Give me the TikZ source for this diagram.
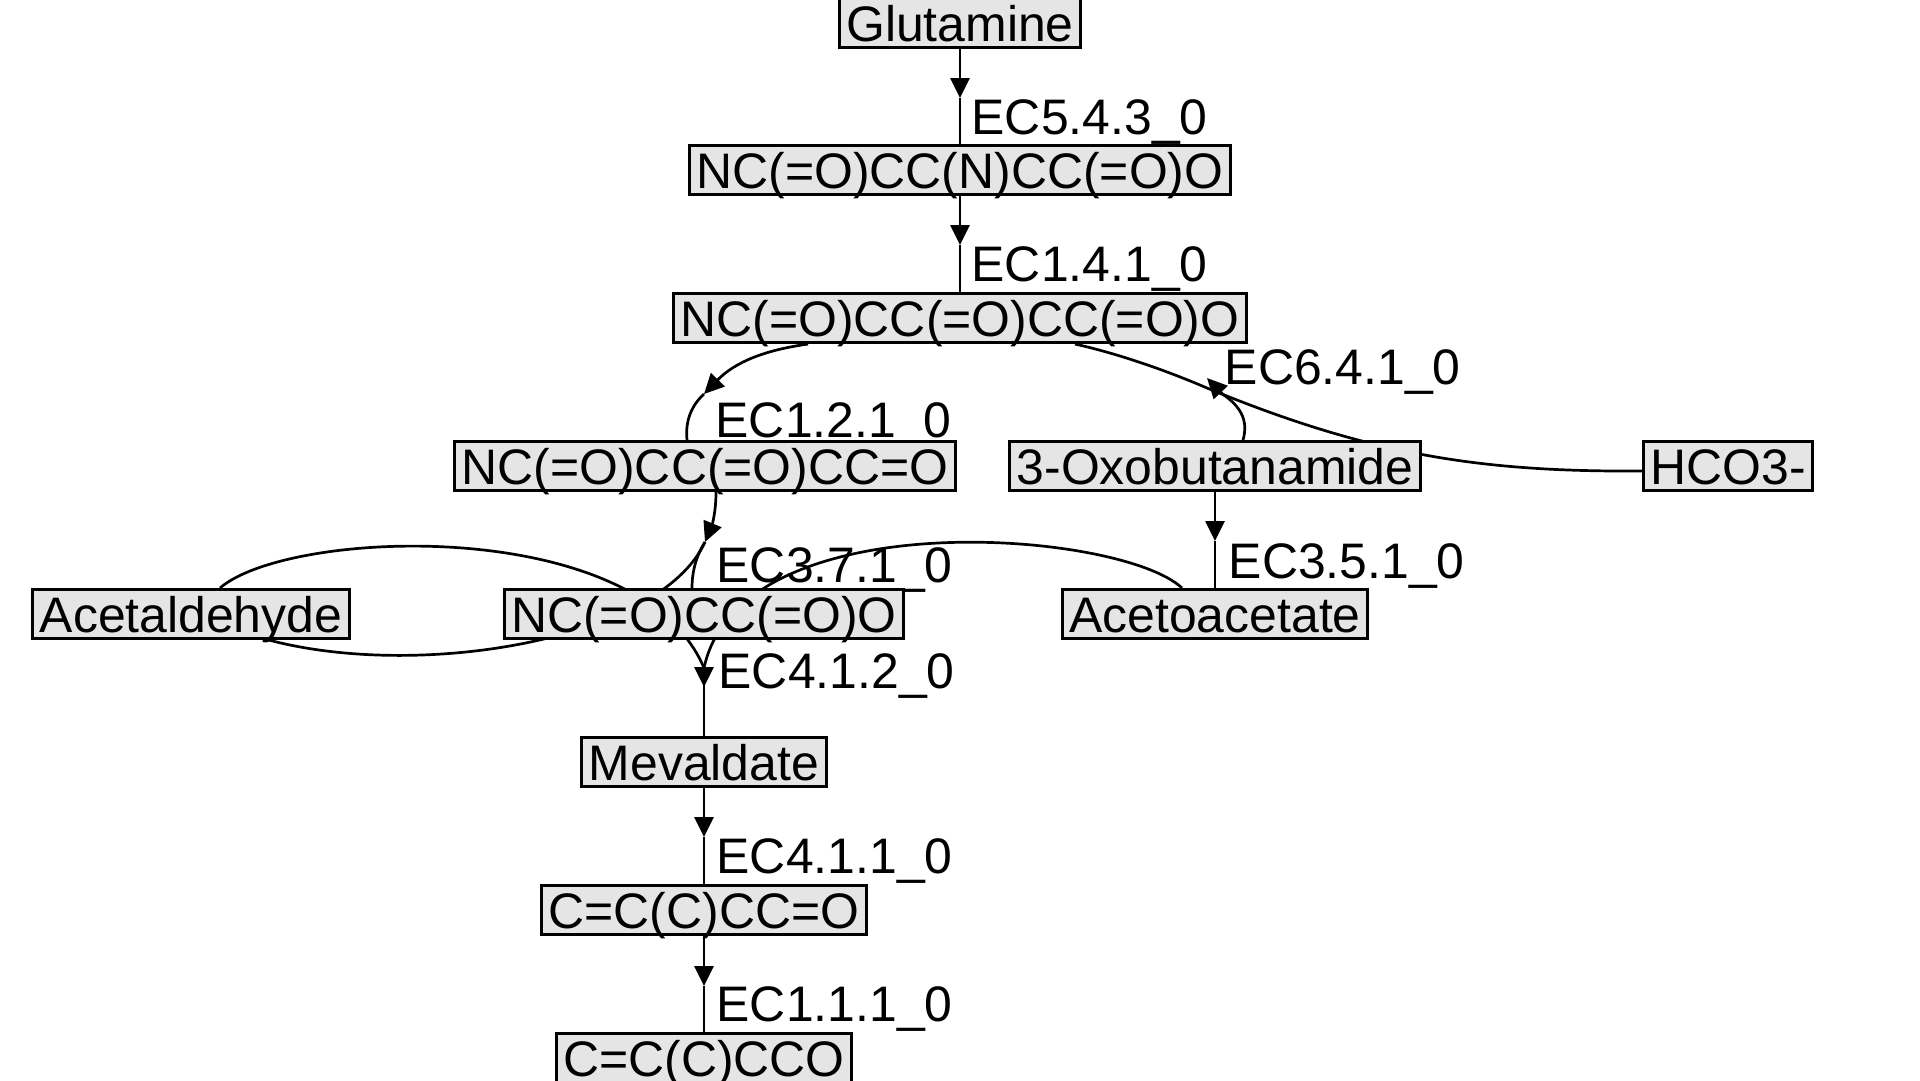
\documentclass[tikz,border=0pt]{standalone}
\usepackage{fontspec}
\setmainfont{Liberation Sans}
\usetikzlibrary{arrows.meta,calc}
\pgfdeclarelayer{bg}
\pgfsetlayers{bg,main}

\begin{document}
\begin{tikzpicture}[
	x=0.1mm, y=-0.1mm,
	font=\fontsize{14.2pt}{17pt}\selectfont,
	cpd/.style={rectangle, draw, line width=0.28mm, fill=black!10, inner xsep=0.7mm, inner ysep=0pt, text height=4.36mm, text depth=0.57mm},
	ec/.style={anchor=base west, inner sep=0pt},
	rxn/.style={line width=0.27mm},
	arr/.style={rxn, -{Triangle[length=2mm, width=1.9mm]}}
]
\begin{pgfonlayer}{bg}
\fill[white] (0,0) rectangle (1920,1080);
\end{pgfonlayer}
\useasboundingbox (0,0) rectangle (1920,1080);

% compounds
\node[cpd] (glu)     at (960,23)   {Glutamine};
\node[cpd] (amid)    at (960,170)  {NC(=O)CC(N)CC(=O)O};
\node[cpd] (oxoacid) at (960,318)  {NC(=O)CC(=O)CC(=O)O};
\node[cpd] (oxoald)  at (705,466)  {NC(=O)CC(=O)CC=O};
\node[cpd] (oxobut)  at (1215,466) {3-Oxobutanamide};
\node[cpd] (hco)     at (1728,466) {HCO3-};
\node[cpd] (acald)   at (191,614)  {Acetaldehyde};
\node[cpd] (malam)   at (704,614)  {NC(=O)CC(=O)O};
\node[cpd] (acac)    at (1215,614) {Acetoacetate};
\node[cpd] (mev)     at (704,762)  {Mevaldate};
\node[cpd] (enal)    at (704,910)  {C=C(C)CC=O};
\node[cpd] (enol)    at (704,1058) {C=C(C)CCO};

% reaction points
\coordinate (j543) at (960,98);
\coordinate (j141) at (960,245);
\coordinate (j121) at (704,394);
\coordinate (j641) at (1207,388);
\coordinate (j351) at (1215,541);
\coordinate (j371) at (705,542);
\coordinate (j412) at (704,668);
\coordinate (j411) at (704,837);
\coordinate (j111) at (704,986);

\begin{pgfonlayer}{bg}
\draw[arr] (glu) -- (j543);
\draw[rxn] (j543) -- (amid);
\draw[arr] (amid) -- (j141);
\draw[rxn] (j141) -- (oxoacid);

\draw[arr] ($(oxoacid.south)+(-152,0)$) .. controls (765,350) and (735,362) .. (j121);
\draw[rxn] (j121) .. controls (692,405) and (685,420) .. ($(oxoald.north)+(-18,0)$);

\draw[rxn] ($(oxoacid.south)+(115,0)$) .. controls (1120,354) and (1170,372) .. (j641);
\draw[arr] ($(oxobut.north)+(28,0)$) .. controls (1252,410) and (1225,397) .. ($(j641)+(0,-10)$);
\draw[rxn] (j641) .. controls (1370,455) and (1480,472) .. ($(hco.west)+(0,5)$);

\draw[arr] (oxobut) -- (j351);
\draw[rxn] (j351) -- (acac);

\draw[arr] ($(oxoald.south)+(11,0)$) .. controls (716,512) and (712,525) .. (j371);
\draw[rxn] (j371) .. controls (696,556) and (692,572) .. ($(malam.north)+(-12,0)$);
\draw[rxn] (j371) .. controls (660,640) and (420,680) .. ($(acald.south)+(78,0)$);

\draw[rxn] ($(acald.north)+(29,0)$) .. controls (290,528) and (640,515) .. (j412);
\draw[rxn] ($(acac.north)+(-33,0)$) .. controls (1120,530) and (740,500) .. (j412);
\draw[arr] (j412) -- ++(0,19);
\draw[rxn] (j412) -- (mev);

\draw[arr] (mev) -- (j411);
\draw[rxn] (j411) -- (enal);
\draw[arr] (enal) -- (j111);
\draw[rxn] (j111) -- (enol);

% enzyme labels
\node[ec] (l543) at (971,134)  {EC5.4.3\_0};
\node[ec] (l141) at (971,281)  {EC1.4.1\_0};
\node[ec] (l641) at (1224,384) {EC6.4.1\_0};
\node[ec] (l121) at (715,437)  {EC1.2.1\_0};
\node[ec] (l371) at (716,582)  {EC3.7.1\_0};
\node[ec] (l351) at (1228,578) {EC3.5.1\_0};
\node[ec] (l412) at (718,688)  {EC4.1.2\_0};
\node[ec] (l411) at (716,873)  {EC4.1.1\_0};
\node[ec] (l111) at (716,1021) {EC1.1.1\_0};
\end{pgfonlayer}
\end{tikzpicture}
\end{document}
